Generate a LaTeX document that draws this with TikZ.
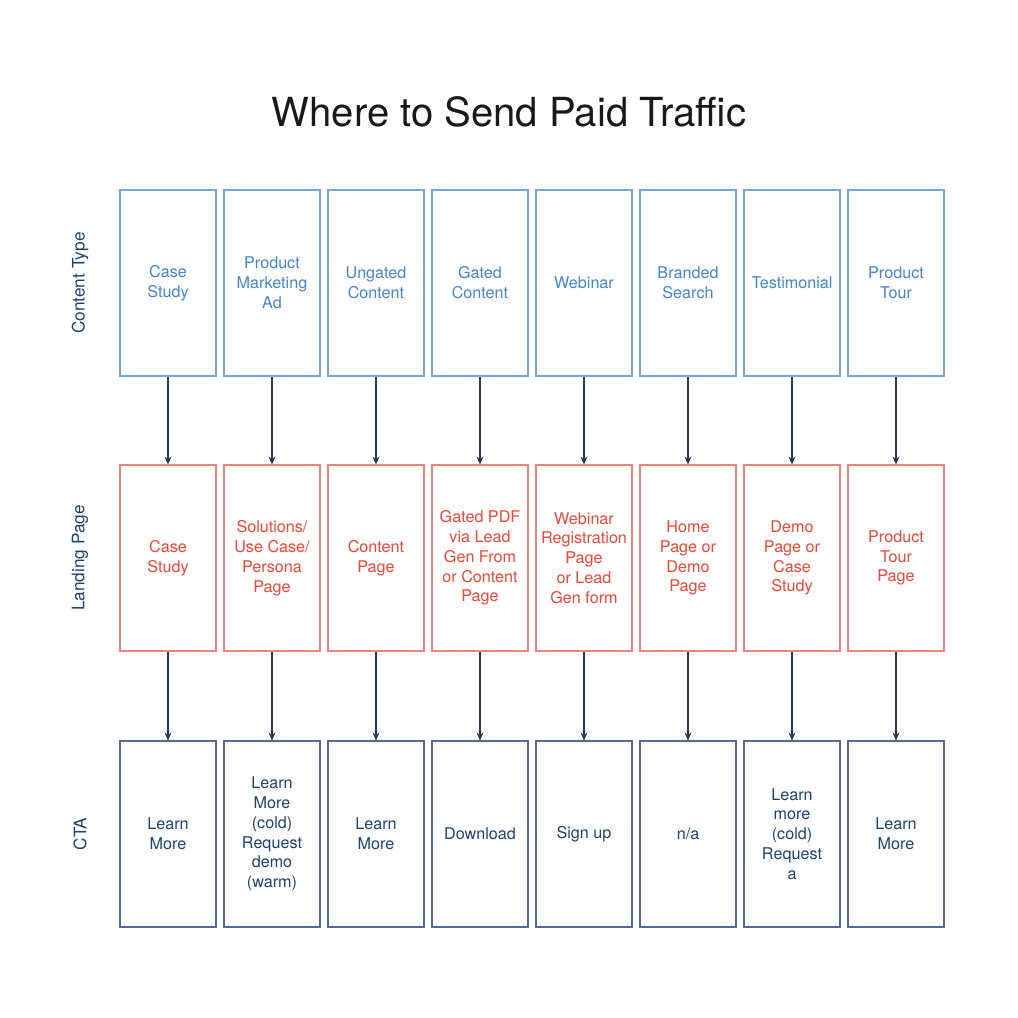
\documentclass[tikz,border=0pt]{standalone}
\usepackage{fontspec}
\setmainfont{TeX Gyre Heros}
\usetikzlibrary{arrows.meta}
\definecolor{typeline}{RGB}{118,167,219}
\definecolor{typetext}{RGB}{66,133,202}
\definecolor{pageline}{RGB}{240,132,120}
\definecolor{pagetext}{RGB}{238,70,52}
\definecolor{ctaline}{RGB}{78,108,148}
\definecolor{ctatext}{RGB}{28,66,110}
\definecolor{flowcol}{RGB}{36,58,92}
\begin{document}
\begin{tikzpicture}[x=0.02cm,y=-0.02cm,>={Stealth[length=4.5pt,width=4pt]},
    cell/.style={draw,line width=0.65pt,minimum width=1.92cm,minimum height=3.72cm,
        inner sep=0pt,align=center,font=\fontsize{9.2}{11.3}\selectfont},
    typecell/.style={cell,draw=typeline,text=typetext},
    pagecell/.style={cell,draw=pageline,text=pagetext},
    ctacell/.style={cell,draw=ctaline,text=ctatext},
    rowlabel/.style={rotate=90,text=ctatext,font=\fontsize{9.8}{12}\selectfont},
    flow/.style={->,draw=flowcol,line width=0.7pt}]
    \useasboundingbox (0,0) rectangle (1018,1018);
    \node[font=\fontsize{22.8}{27}\selectfont,text=black!90] (title) at (509,112)
        {Where to Send Paid Traffic};

    \node[rowlabel] (rtype) at (80,283) {Content Type};
    \node[rowlabel] (rpage) at (80,558) {Landing Page};
    \node[rowlabel] (rcta) at (80,834) {CTA};

    \foreach \i/\ctype/\lpage/\cta in {
        1/{Case\\Study}/{Case\\Study}/{Learn\\More},
        2/{Product\\Marketing\\Ad}/{Solutions/\\Use Case/\\Persona\\Page}/{Learn\\More\\(cold)\\Request\\demo\\(warm)},
        3/{Ungated\\Content}/{Content\\Page}/{Learn\\More},
        4/{Gated\\Content}/{Gated PDF\\via Lead\\Gen From\\or Content\\Page}/{Download},
        5/{Webinar}/{Webinar\\Registration\\Page\\or Lead\\Gen form}/{Sign up},
        6/{Branded\\Search}/{Home\\Page or\\Demo\\Page}/{n/a},
        7/{Testimonial}/{Demo\\Page or\\Case\\Study}/{Learn\\more\\(cold)\\Request\\a},
        8/{Product\\Tour}/{Product\\Tour\\Page}/{Learn\\More}} {
        \node[typecell] (t\i) at ({168+104*(\i-1)},283) {\ctype};
        \node[pagecell] (l\i) at ({168+104*(\i-1)},558) {\lpage};
        \node[ctacell] (c\i) at ({168+104*(\i-1)},834) {\cta};
        \draw[flow] (t\i) -- (l\i);
        \draw[flow] (l\i) -- (c\i);
    }
\end{tikzpicture}
\end{document}
